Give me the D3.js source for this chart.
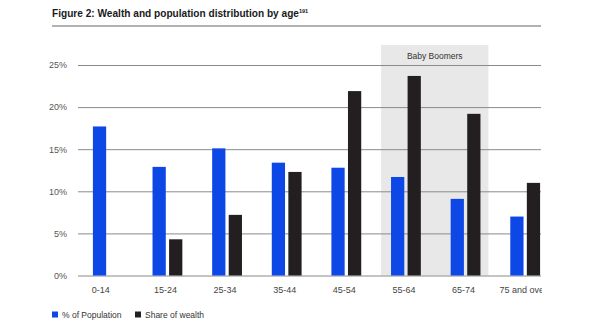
<!DOCTYPE html>
<html>
<head>
<meta charset="utf-8">
<script src="https://cdn.jsdelivr.net/npm/d3@7"></script>
<style>
  html, body { margin: 0; padding: 0; background: #fff; }
  svg { display: block; font-family: "Liberation Sans", Arial, sans-serif; }
</style>
</head>
<body>
<svg id="chart" width="600" height="330"></svg>
<script>
const categories = ["0-14", "15-24", "25-34", "35-44", "45-54", "55-64", "65-74", "75 and over"];
const seriesNames = ["% of Population", "Share of wealth"];
const population = [17.7, 12.9, 15.1, 13.4, 12.8, 11.7, 9.1, 7.0];
const wealth = [0, 4.3, 7.2, 12.3, 21.9, 23.7, 19.2, 11.0];
const yTicks = [0, 5, 10, 15, 20, 25];
const highlightGroups = ["55-64", "65-74"];
const highlightLabel = "Baby Boomers";
const titleText = "Figure 2: Wealth and population distribution by age";
const titleSup = "191";

const colors = { "% of Population": "#0d47e6", "Share of wealth": "#231f20" };

const svg = d3.select("#chart");

const x = d3.scaleBand().domain(categories).range([78, 555]).paddingInner(0.5).paddingOuter(0.25);
const xs = d3.scaleBand().domain(seriesNames).range([0, x.bandwidth()]).paddingInner(0.2);
const y = d3.scaleLinear().domain([0, 25]).range([275.5, 65]);
const gridLeft = 78, gridRight = 541;

// Title
const title = svg.append("text").attr("x", 52).attr("y", 17)
  .attr("font-weight", "bold").attr("font-size", 11).attr("fill", "#1a1a1a")
  .text(titleText);
const tl = title.node().getComputedTextLength();
const fs = 11 * 247 / tl;
title.attr("font-size", fs);
title.append("tspan").attr("font-size", fs * 0.55).attr("dy", -4).text(titleSup);

svg.append("line").attr("x1", 52).attr("x2", 541).attr("y1", 26).attr("y2", 26)
  .attr("stroke", "#999").attr("stroke-width", 1.5);

// Highlight band
const gap = (x.step() - x.bandwidth()) / 3;
const hx0 = x(highlightGroups[0]) - gap;
const hx1 = x(highlightGroups[highlightGroups.length - 1]) + x.bandwidth() + gap * 0.8;
svg.append("rect").attr("x", hx0).attr("y", 45).attr("width", hx1 - hx0).attr("height", y(0) - 45)
  .attr("fill", "#e8e8e8");
svg.append("text").attr("x", (hx0 + hx1) / 2).attr("y", 59).attr("text-anchor", "middle")
  .attr("font-size", 8.5).attr("fill", "#333").text(highlightLabel);

// Y axis with gridlines
const yAxis = d3.axisLeft(y).tickValues(yTicks).tickFormat(d => d + "%")
  .tickSize(-(gridRight - gridLeft)).tickPadding(11);
const yg = svg.append("g").attr("transform", `translate(${gridLeft},0)`).call(yAxis);
yg.select(".domain").remove();
yg.selectAll(".tick line").attr("stroke", "#8a8a8a").attr("stroke-width", 1);
yg.selectAll(".tick text").attr("font-size", 9).attr("fill", "#555")
  .attr("font-family", "'Liberation Sans', Arial, sans-serif");

// Bars
const groups = svg.append("g").selectAll("g").data(categories).join("g")
  .attr("transform", d => `translate(${x(d)},0)`);
groups.selectAll("rect").data((d, i) => [
    { s: seriesNames[0], v: population[i] },
    { s: seriesNames[1], v: wealth[i] }
  ]).join("rect")
  .attr("x", d => xs(d.s))
  .attr("width", xs.bandwidth())
  .attr("y", d => y(d.v))
  .attr("height", d => y(0) - y(d.v))
  .attr("fill", d => colors[d.s]);

// X axis labels (clipped at right)
svg.append("clipPath").attr("id", "xclip").append("rect")
  .attr("x", 0).attr("y", 0).attr("width", 542).attr("height", 330);
const xAxis = d3.axisBottom(x).tickSize(0).tickPadding(11);
const xg = svg.append("g").attr("transform", `translate(0,${y(0)})`)
  .attr("clip-path", "url(#xclip)").call(xAxis);
xg.select(".domain").remove();
xg.selectAll(".tick text").attr("font-size", 9).attr("fill", "#444")
  .attr("font-family", "'Liberation Sans', Arial, sans-serif")
  .attr("dx", (d, i) => i === 0 ? -7 : -2);

// Legend
const legend = svg.append("g");
const legendX = [52, 135];
seriesNames.forEach((s, i) => {
  legend.append("rect").attr("x", legendX[i]).attr("y", 311.5).attr("width", 6).attr("height", 6)
    .attr("fill", colors[s]);
  legend.append("text").attr("x", legendX[i] + 10).attr("y", 318).attr("font-size", 8.5)
    .attr("fill", "#333").text(s);
});
</script>
</body>
</html>
